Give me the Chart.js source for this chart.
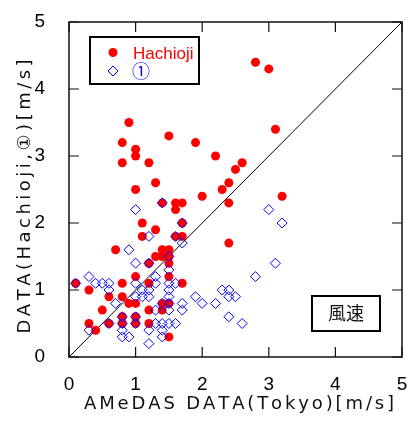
<!DOCTYPE html>
<html lang="ja">
<head>
  <meta charset="utf-8" />
  <title>風速</title>
  <script src="https://cdn.jsdelivr.net/npm/chart.js"></script>
  <style>
    * { box-sizing: border-box; margin: 0; padding: 0; }
    body { background: #fff; }
    .wrap { width: 408px; height: 421px; }
  </style>
</head>
<body>
  <div class="wrap"><canvas id="chart"></canvas></div>

  <script>
    // AMeDAS (Tokyo) on x, local measurement on y, m/s
    const hachiojiX = [2.8, 3.0, 0.9, 0.8, 1.0, 1.0, 1.5, 1.9, 3.1, 0.8, 1.2, 2.2, 2.6, 2.5, 1.3, 2.4, 2.3, 1.0, 2.0, 3.2,
      2.4, 1.6, 1.7, 1.6, 1.4, 1.7, 1.1, 1.3, 1.1, 1.7, 1.6, 2.4, 0.7, 1.4, 1.5, 1.3, 1.4, 1.5, 1.2, 1.5,
      1.0, 1.5, 0.1, 0.8, 1.2, 1.7, 0.3, 0.8, 0.6, 0.9, 1.0, 1.4, 1.5, 1.2, 1.4, 0.5, 0.8, 1.0, 0.3, 0.6,
      0.8, 1.0, 1.2, 0.4, 1.5];
    const hachiojiY = [4.4, 4.3, 3.5, 3.2, 3.1, 3.0, 3.3, 3.2, 3.4, 2.9, 2.9, 3.0, 2.9, 2.8, 2.6, 2.6, 2.5, 2.5, 2.4, 2.4,
      2.3, 2.3, 2.3, 2.2, 2.3, 2.0, 2.0, 1.9, 1.8, 1.8, 1.8, 1.7, 1.6, 1.6, 1.6, 1.5, 1.5, 1.5, 1.4, 1.4,
      1.2, 1.2, 1.1, 1.1, 1.1, 1.1, 1.0, 0.9, 0.9, 0.8, 0.8, 0.8, 0.8, 0.7, 0.7, 0.7, 0.6, 0.6, 0.5, 0.5,
      0.5, 0.5, 0.5, 0.4, 0.3];

    const site1X = [1.0, 3.0, 3.2, 1.7, 1.4, 1.2, 1.6, 1.7, 0.9, 1.0, 1.2, 1.5, 1.5, 3.1, 2.8, 1.3, 0.3, 0.1, 0.4, 0.5,
      0.6, 1.0, 1.3, 1.5, 1.6, 0.6, 1.1, 1.2, 1.5, 2.3, 2.4, 1.0, 1.1, 1.2, 1.5, 1.9, 2.4, 2.5, 0.7, 2.0,
      2.2, 1.4, 1.5, 1.7, 1.3, 1.5, 1.7, 0.8, 1.0, 2.4, 0.6, 0.8, 1.0, 1.3, 1.4, 1.5, 1.6, 2.6, 0.3, 0.8,
      1.2, 1.4, 0.8, 0.9, 1.4, 1.2];
    const site1Y = [2.2, 2.2, 2.0, 2.0, 2.3, 1.8, 1.8, 1.7, 1.6, 1.4, 1.4, 1.5, 1.3, 1.4, 1.2, 1.2, 1.2, 1.1, 1.1, 1.1,
      1.1, 1.1, 1.1, 1.1, 1.1, 1.0, 1.0, 1.0, 1.0, 1.0, 1.0, 0.9, 0.9, 0.9, 0.9, 0.9, 0.9, 0.9, 0.8, 0.8,
      0.8, 0.8, 0.8, 0.8, 0.7, 0.7, 0.7, 0.6, 0.6, 0.6, 0.5, 0.5, 0.5, 0.5, 0.5, 0.5, 0.5, 0.5, 0.4, 0.4,
      0.4, 0.4, 0.3, 0.3, 0.3, 0.2];

    const tickValues = [0, 1, 2, 3, 4, 5];
    const diagonal = [0, 5];
    const xTitle = 'AMeDAS DATA(Tokyo)[m/s]';
    const yTitle = 'DATA(Hachioji,①)[m/s]';

    const toPoints = (xs, ys) => xs.map((x, i) => ({ x, y: ys[i] }));

    // wide-set gothic text, spread to a given length
    function spacedText(ctx, text, cx, cy, width, rotate) {
      const chars = [...text];
      const w = ctx.measureText(text).width;
      const gap = (width - w) / (chars.length - 1);
      ctx.save();
      ctx.translate(cx, cy);
      if (rotate) ctx.rotate(-Math.PI / 2);
      ctx.textAlign = 'left';
      ctx.textBaseline = 'alphabetic';
      let x = -width / 2;
      chars.forEach(c => {
        ctx.fillText(c, x, 0);
        x += ctx.measureText(c).width + gap;
      });
      ctx.restore();
    }

    // box, inward ticks, titles, legend and the 風速 label
    const framePlugin = {
      id: 'frame',
      afterDatasetsDraw(chart) {
        const { ctx, chartArea: a, scales: { x, y } } = chart;
        ctx.save();
        ctx.strokeStyle = '#111';
        ctx.lineWidth = 1.5;
        ctx.strokeRect(a.left, a.top, a.right - a.left, a.bottom - a.top);
        ctx.lineWidth = 1.2;
        ctx.beginPath();
        tickValues.forEach(v => {
          const px = x.getPixelForValue(v);
          const py = y.getPixelForValue(v);
          ctx.moveTo(px, a.bottom); ctx.lineTo(px, a.bottom - 10);
          ctx.moveTo(px, a.top); ctx.lineTo(px, a.top + 10);
          ctx.moveTo(a.left, py); ctx.lineTo(a.left + 10, py);
          ctx.moveTo(a.right, py); ctx.lineTo(a.right - 10, py);
        });
        ctx.stroke();

        // axis titles
        ctx.fillStyle = '#111';
        ctx.font = '18px "DejaVu Sans", "Noto Sans CJK JP", sans-serif';
        spacedText(ctx, xTitle, (a.left + a.right) / 2, 409, 303, false);
        spacedText(ctx, yTitle, 30, 198, 271, true);

        // legend
        ctx.fillStyle = '#fff';
        ctx.fillRect(90, 37, 109, 47);
        ctx.lineWidth = 2;
        ctx.strokeStyle = '#000';
        ctx.strokeRect(90, 37, 109, 47);
        ctx.fillStyle = '#ff0000';
        ctx.beginPath();
        ctx.arc(113, 52.5, 4.5, 0, Math.PI * 2);
        ctx.fill();
        ctx.font = '17px "Liberation Sans", Arial, sans-serif';
        ctx.textBaseline = 'alphabetic';
        ctx.fillText('Hachioji', 133, 59);
        ctx.strokeStyle = '#0000ff';
        ctx.lineWidth = 1;
        ctx.beginPath();
        ctx.moveTo(108, 71); ctx.lineTo(113, 66); ctx.lineTo(118, 71); ctx.lineTo(113, 76);
        ctx.closePath();
        ctx.stroke();
        ctx.fillStyle = '#0000ff';
        ctx.font = '18px "Noto Sans CJK JP", sans-serif';
        ctx.textBaseline = 'middle';
        ctx.fillText('①', 132, 71);

        // 風速 box
        ctx.fillStyle = '#fff';
        ctx.fillRect(312, 296, 68, 35);
        ctx.strokeStyle = '#000';
        ctx.lineWidth = 2;
        ctx.strokeRect(312, 296, 68, 35);
        ctx.fillStyle = '#111';
        ctx.font = '18px "Noto Sans CJK JP", sans-serif';
        ctx.textAlign = 'center';
        ctx.fillText('風速', 346, 313.5);
        ctx.restore();
      }
    };

    const tickFont = { family: '"Liberation Sans", Arial, sans-serif', size: 19 };

    new Chart(document.getElementById('chart'), {
      type: 'scatter',
      data: {
        datasets: [
          {
            label: 'y=x',
            type: 'line',
            data: toPoints(diagonal, diagonal),
            borderColor: '#000',
            borderWidth: 1,
            pointRadius: 0,
            fill: false,
            order: 3
          },
          {
            label: 'Hachioji',
            data: toPoints(hachiojiX, hachiojiY),
            backgroundColor: '#ff0000',
            borderColor: '#ff0000',
            borderWidth: 0,
            pointRadius: 4.5,
            pointStyle: 'circle',
            order: 2
          },
          {
            label: '①',
            data: toPoints(site1X, site1Y),
            backgroundColor: 'rgba(0,0,0,0)',
            borderColor: '#0000ff',
            borderWidth: 1,
            pointRadius: 5,
            pointStyle: 'rectRot',
            order: 1
          }
        ]
      },
      options: {
        responsive: true,
        maintainAspectRatio: false,
        animation: false,
        layout: { padding: { left: 0, right: 3, top: 22, bottom: 0 } },
        plugins: { legend: { display: false }, tooltip: { enabled: false } },
        scales: {
          x: {
            type: 'linear',
            min: 0, max: 5,
            grid: { display: false },
            border: { display: false },
            ticks: { stepSize: 1, color: '#000', font: tickFont, padding: 8, maxRotation: 0 },
            afterFit(s) { s.height = 64; s.paddingLeft = 0; s.paddingRight = 0; }
          },
          y: {
            type: 'linear',
            min: 0, max: 5,
            grid: { display: false },
            border: { display: false },
            ticks: { stepSize: 1, color: '#000', font: tickFont, padding: 16 },
            afterFit(s) { s.width = 69; s.paddingTop = 0; s.paddingBottom = 0; }
          }
        }
      },
      plugins: [framePlugin]
    });
  </script>
</body>
</html>
